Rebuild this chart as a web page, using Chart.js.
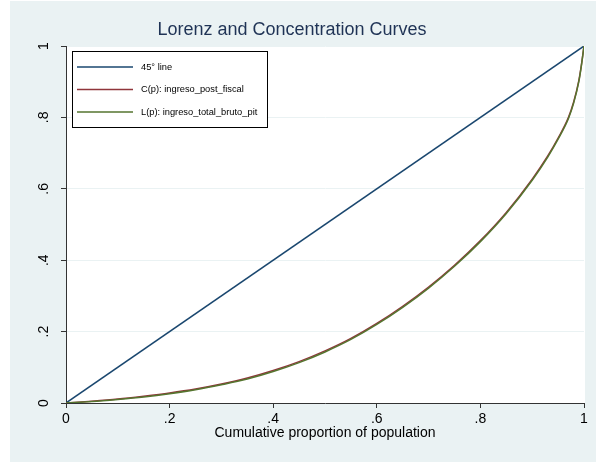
<!DOCTYPE html>
<html>
<head>
<meta charset="utf-8">
<script src="https://cdn.jsdelivr.net/npm/chart.js@4.4.1/dist/chart.umd.min.js"></script>
<style>
  html, body { margin: 0; padding: 0; background: #ffffff; }
  #wrap { width: 596px; height: 462px; }
</style>
</head>
<body>
<div id="wrap"><canvas id="c" width="596" height="462"></canvas></div>
<script>
// ---- data ----
const titleText = "Lorenz and Concentration Curves";
const xTitle = "Cumulative proportion of population";
const seriesLabels = ["45\u00B0 line", "C(p): ingreso_post_fiscal", "L(p): ingreso_total_bruto_pit"];
const tickValues = [0, 0.2, 0.4, 0.6, 0.8, 1];
const tickLabels = ["0", ".2", ".4", ".6", ".8", "1"];
const diagP = [0, 1];
const diagY = [0, 1];
const p = [0, 0.05, 0.1, 0.15, 0.2, 0.25, 0.3, 0.35, 0.4, 0.45, 0.5, 0.55, 0.6, 0.65, 0.7, 0.75, 0.8, 0.85, 0.9, 0.93, 0.95, 0.97, 0.98, 0.99, 0.995, 1];
const concC = [0, 0.005, 0.011, 0.019, 0.028, 0.039, 0.053, 0.070, 0.091, 0.116, 0.146, 0.181, 0.223, 0.271, 0.325, 0.386, 0.455, 0.534, 0.627, 0.692, 0.742, 0.800, 0.843, 0.903, 0.947, 1];
const lorenzL = [0, 0.004, 0.010, 0.017, 0.026, 0.037, 0.051, 0.067, 0.088, 0.113, 0.143, 0.178, 0.220, 0.268, 0.322, 0.383, 0.452, 0.531, 0.624, 0.689, 0.739, 0.797, 0.840, 0.900, 0.945, 1];

const colors = ["#1A476F", "#90353B", "#55752F"];
const toPts = (xs, ys) => xs.map((x, i) => ({x: x, y: ys[i]}));
const fmt = v => {
  const r = Math.round(v * 10) / 10;
  const i = tickValues.findIndex(t => Math.abs(t - r) < 1e-9);
  return i >= 0 ? tickLabels[i] : "";
};

const bgPlugin = {
  id: "bg",
  beforeDraw(chart) {
    const ctx = chart.ctx, a = chart.chartArea;
    ctx.save();
    ctx.fillStyle = "#ffffff";
    ctx.fillRect(0, 0, chart.width, chart.height);
    ctx.fillStyle = "#EAF2F3";
    ctx.fillRect(10, 1, chart.width - 10, chart.height - 1);
    ctx.fillStyle = "#ffffff";
    ctx.fillRect(a.left, a.top, a.right - a.left + 1, a.bottom - a.top);
    ctx.restore();
  }
};

const legendPlugin = {
  id: "boxLegend",
  afterDraw(chart) {
    const ctx = chart.ctx;
    const x0 = 72, y0 = 51, w = 195, h = 76;
    ctx.save();
    ctx.fillStyle = "#ffffff";
    ctx.fillRect(x0, y0, w, h);
    ctx.strokeStyle = "#000000";
    ctx.lineWidth = 1;
    ctx.strokeRect(x0 + 0.5, y0 + 0.5, w, h);
    ctx.font = "9.3px 'Liberation Sans', Arial, sans-serif";
    ctx.textBaseline = "middle";
    ctx.textAlign = "left";
    chart.data.datasets.forEach((ds, i) => {
      const y = 67 + i * 22.5;
      ctx.strokeStyle = ds.borderColor;
      ctx.lineWidth = 1.5;
      ctx.beginPath();
      ctx.moveTo(77, y);
      ctx.lineTo(133, y);
      ctx.stroke();
      ctx.fillStyle = "#000000";
      ctx.fillText(ds.label, 141, y);
    });
    ctx.restore();
  }
};

new Chart(document.getElementById("c"), {
  type: "scatter",
  data: {
    datasets: [
      { label: seriesLabels[0], data: toPts(diagP, diagY), borderColor: colors[0], backgroundColor: colors[0], order: 2 },
      { label: seriesLabels[1], data: toPts(p, concC), borderColor: colors[1], backgroundColor: colors[1], order: 1, cubicInterpolationMode: "monotone" },
      { label: seriesLabels[2], data: toPts(p, lorenzL), borderColor: colors[2], backgroundColor: colors[2], order: 0, cubicInterpolationMode: "monotone" }
    ]
  },
  options: {
    responsive: false,
    animation: false,
    showLine: true,
    elements: { point: { radius: 0, hoverRadius: 0 }, line: { borderWidth: 1.5 } },
    layout: { padding: { left: 0, right: 12, top: 0, bottom: 0 } },
    plugins: {
      legend: { display: false },
      tooltip: { enabled: false },
      title: {
        display: true,
        text: titleText,
        color: "#1F3355",
        font: { family: "'Liberation Sans', Arial, sans-serif", size: 18, weight: "normal", lineHeight: 1.2 },
        padding: { top: 19.2, bottom: 5.2 }
      }
    },
    scales: {
      x: {
        type: "linear", min: 0, max: 1,
        afterFit(s) { s.height = 59; },
        afterBuildTicks(s) { s.ticks = tickValues.map(v => ({value: v})); },
        ticks: { callback: fmt, color: "#000", padding: 3, maxRotation: 0, font: { family: "'Liberation Sans', Arial, sans-serif", size: 14 } },
        grid: { drawOnChartArea: false, drawTicks: true, tickLength: 5, tickColor: "#333333" },
        border: { display: true, color: "#333333", width: 1 },
        title: { display: true, text: xTitle, color: "#000", padding: { top: 0, bottom: 20 }, font: { family: "'Liberation Sans', Arial, sans-serif", size: 14, lineHeight: 1.2 } }
      },
      y: {
        type: "linear", min: 0, max: 1,
        afterFit(s) { s.width = 66; },
        afterBuildTicks(s) { s.ticks = tickValues.map(v => ({value: v})); },
        ticks: { callback: fmt, color: "#000", padding: 11, minRotation: 90, maxRotation: 90, crossAlign: "center", font: { family: "'Liberation Sans', Arial, sans-serif", size: 14 } },
        grid: { drawOnChartArea: true, drawTicks: true, tickLength: 5, color: "#EAF2F3", tickColor: "#333333", lineWidth: 1 },
        border: { display: true, color: "#333333", width: 1 }
      }
    }
  },
  plugins: [bgPlugin, legendPlugin]
});
</script>
</body>
</html>
